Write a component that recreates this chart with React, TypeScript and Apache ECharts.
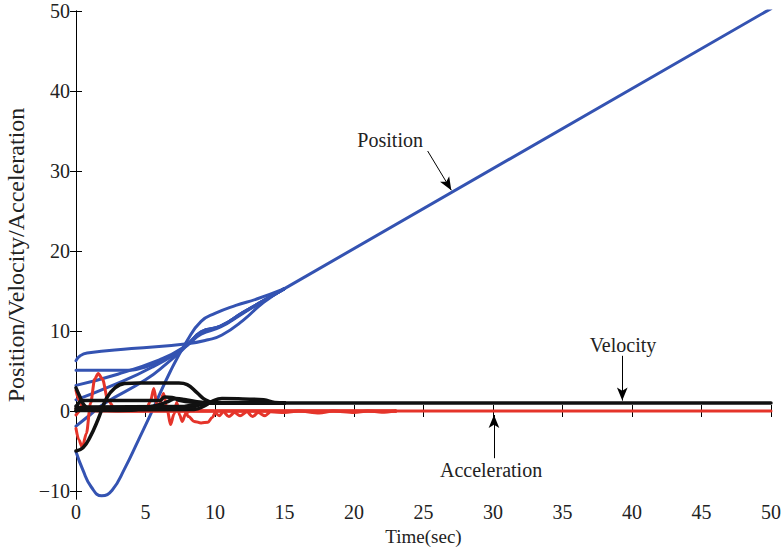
import React, { useEffect, useRef } from "react";
import * as echarts from "echarts";

// Axis ranges and tick values
const xRange = [0, 50];
const yRange = [-11, 50];
const xTicks = [0, 5, 10, 15, 20, 25, 30, 35, 40, 45, 50];
const yTicks = [-10, 0, 10, 20, 30, 40, 50];

// Position of each agent during the transient: [time, value]
const pos1 = [[0, 6.3], [0.3, 6.9], [0.8, 7.25], [4, 7.8], [8, 8.4], [9.5, 8.9], [10.5, 9.5], [12, 11.3], [13.5, 13.6], [15, 15.3]];
const pos2 = [[0, 5.1], [3.5, 5.1], [5, 5.5], [6.5, 6.6], [8, 8.25], [9, 9.6], [10.4, 10.5], [12, 12.2], [13.5, 13.8], [15, 15.3]];
const pos3 = [[0, 3.2], [3, 4.6], [6, 6.4], [7.6, 7.8], [9, 9.8], [10.4, 10.6], [12, 12.3], [13.5, 13.8], [15, 15.3]];
const pos4 = [[0, 1.4], [2.5, 3.1], [5.5, 5.5], [8, 8.2], [9, 9.9], [10.4, 10.6], [12, 12.3], [13.5, 13.8], [15, 15.3]];
const pos5 = [[0, -1.9], [1, -0.5], [2.1, 1.0], [5, 3.9], [6.5, 5.9], [8, 8.2], [9, 9.9], [10.4, 10.6], [12, 12.3], [13.5, 13.8], [15, 15.3]];
const pos6 = [[0, -5.1], [0.5, -7.4], [1.1, -9.5], [1.85, -10.6], [2.6, -9.9], [3.5, -7.2], [4.5, -3.6], [5.4, -0.3], [6.8, 5], [8, 8.8], [9, 11.2], [10, 12.2], [11.5, 13.2], [13, 14], [15, 15.3]];
// Common steady-state trajectory
const posTail = [[15, 15.3], [50, 50.3]];

// Velocity of each agent during the transient
const vel1 = [[0, 2.9], [0.25, 1.9], [0.55, 0.8], [0.9, 0.3], [1.5, 0.15], [8.5, 0.2], [9.2, 0.6], [9.9, 1.3], [10.5, 1.55], [12, 1.5], [13.5, 1.4], [14.3, 1.05], [15, 1.0]];
const vel2 = [[0, 0.05], [4, 0.1], [5, 0.45], [6, 0.8], [6.5, 1.1], [7.2, 1.55], [7.8, 1.45], [8.6, 1.2], [9.4, 1.05], [15, 1]];
const vel3 = [[0, 0.3], [0.3, 1.2], [0.6, 1.3], [6, 1.3], [6.4, 1.75], [6.9, 1.7], [7.5, 1.3], [8.5, 1.1], [10, 1.0], [15, 1]];
const vel4 = [[0, 0.6], [0.5, 0.35], [8, 0.35], [9, 0.8], [10, 1.0], [15, 1]];
const vel5 = [[0, 0], [0.6, 0.5], [7.5, 0.55], [8.5, 0.8], [9.5, 1.0], [15, 1]];
const vel6 = [[0, -5], [0.5, -4.6], [1.0, -3.3], [1.6, -1.0], [2.2, 1.6], [2.8, 2.9], [3.5, 3.45], [4.5, 3.5], [7.4, 3.5], [8.0, 3.3], [8.7, 2.3], [9.3, 1.4], [9.9, 1.05], [10.8, 1.0], [15, 1]];
const velTail = [[15, 1], [50, 1]];

// Acceleration of each agent during the transient
const acc1 = [[0, -2.2], [0.2, -3.6], [0.45, -4.5], [0.75, -2.8], [1.05, 1.0], [1.35, 4.0], [1.6, 4.7], [1.9, 4.0], [2.3, 1.3], [2.8, 0.3], [3.5, 0.05], [7.8, 0], [8.1, -0.7], [8.5, -1.3], [9.0, -1.5], [9.5, -1.4], [9.8, -0.8], [10.1, 0], [10.6, 0], [23, 0]];
const acc2 = [[0, 2.6], [0.2, 1.4], [0.5, 0.4], [0.9, 0.05], [5.0, 0], [5.35, 1.2], [5.6, 2.8], [5.85, 0.5], [6.05, 1.0], [6.3, 2.2], [6.55, 0.3], [6.8, -1.7], [7.05, -0.4], [7.25, 1.1], [7.45, -0.5], [7.65, -1.3], [7.9, -0.3], [8.2, 0], [23, 0]];
const acc3 = [[0, 0.3], [0.6, 0.1], [1.5, 0], [9.9, 0], [10.3, -0.6], [10.6, -0.1], [11, -0.7], [11.4, -0.2], [11.8, -0.6], [12.3, -0.1], [12.7, -0.7], [13.1, -0.2], [13.6, -0.6], [14, -0.1], [15, -0.2], [16, 0], [17.5, -0.25], [18.5, 0], [20, -0.2], [21, 0], [22, -0.15], [23, 0]];
const acc4 = [[0, -0.5], [0.5, 0.3], [1.5, 0.1], [3, 0], [23, 0]];
const accTail = [[23, 0], [50, 0]];

const positions = [pos1, pos2, pos3, pos4, pos5, pos6];
const velocities = [vel1, vel2, vel3, vel4, vel5, vel6];
const accelerations = [acc1, acc2, acc3, acc4];

// Annotations: label text, label anchor, arrow tail and arrow head (data coords)
const noteText = ["Position", "Velocity", "Acceleration"];
const noteAt = [[22.6, 33.9], [39.35, 8.25], [29.86, -7.4]];
const arrowFrom = [[25.3, 32.5], [39.3, 6.9], [30.07, -5.9]];
const arrowTo = [[27.0, 27.6], [39.3, 1.3], [30.07, -0.5]];

const BLUE = "#3453B2";
const RED = "#E5342A";
const BLACK = "#111111";
const FONT = '"Liberation Serif", "Times New Roman", serif';

const fmtTick = (v: number) => String(v).replace("-", "\u2212");

function lineSeries(data: number[][], color: string, width: number, smooth: number | boolean, monotone = true) {
  return {
    type: "line",
    data,
    showSymbol: false,
    symbol: "none",
    smooth,
    smoothMonotone: monotone ? "x" : undefined,
    clip: true,
    lineStyle: { color, width, cap: "round", join: "round" },
    silent: true,
  };
}

export default function App() {
  const ref = useRef<HTMLDivElement>(null);

  useEffect(() => {
    if (!ref.current) return;
    const chart = echarts.init(ref.current, undefined, { renderer: "svg" });

    const axisCommon = {
      type: "value",
      axisLine: { show: true, lineStyle: { color: "#000", width: 1 } },
      splitLine: { show: false },
    };
    const tick = (values: number[]) => ({
      show: true,
      inside: true,
      length: 6,
      customValues: values,
      lineStyle: { color: "#000", width: 1 },
    });

    const series: any[] = [
      ...positions.map((d) => lineSeries(d, BLUE, 3, 0.5, false)),
      lineSeries(posTail, BLUE, 3, false),
      ...accelerations.map((d) => lineSeries(d, RED, 3, 0.3)),
      lineSeries(accTail, RED, 3, false),
      ...velocities.map((d) => lineSeries(d, BLACK, 3.5, 0.45, false)),
      lineSeries(velTail, BLACK, 3.5, false),
      {
        type: "line",
        data: [],
        silent: true,
        markLine: {
          silent: true,
          animation: false,
          symbol: ["none", "arrow"],
          symbolSize: [8, 13],
          label: { show: false },
          lineStyle: { color: "#000", width: 1, type: "solid" },
          emphasis: { disabled: true },
          data: arrowFrom.map((f, i) => [{ coord: f }, { coord: arrowTo[i] }]),
        },
      },
    ];

    const tickFont = { fontFamily: FONT, fontSize: 20, color: "#222" };

    chart.setOption({
      animation: false,
      backgroundColor: "#ffffff",
      grid: { left: 76, right: 12, top: 11, bottom: 48, containLabel: false, outerBoundsMode: "none" },
      xAxis: [
        {
          ...axisCommon,
          min: xRange[0],
          max: xRange[1],
          position: "bottom",
          name: "Time(sec)",
          nameLocation: "middle",
          nameGap: 28,
          nameTextStyle: { fontFamily: FONT, fontSize: 19, color: "#222" },
          axisTick: tick(xTicks),
          axisLabel: { ...tickFont, margin: 3, customValues: xTicks, formatter: fmtTick },
        },
        {
          ...axisCommon,
          min: xRange[0],
          max: xRange[1],
          position: "top",
          axisTick: tick(xTicks),
          axisLabel: { show: false },
        },
      ],
      yAxis: [
        {
          ...axisCommon,
          min: yRange[0],
          max: yRange[1],
          position: "left",
          name: "Position/Velocity/Acceleration",
          nameLocation: "middle",
          nameGap: 44,
          nameTextStyle: { fontFamily: FONT, fontSize: 24, color: "#222" },
          axisTick: tick(yTicks),
          axisLabel: { ...tickFont, margin: 6, customValues: yTicks, formatter: fmtTick },
        },
        {
          ...axisCommon,
          min: yRange[0],
          max: yRange[1],
          position: "right",
          axisTick: tick(yTicks),
          axisLabel: { show: false },
        },
      ],
      series,
    });

    const graphic = noteText.map((t, i) => {
      const p = chart.convertToPixel({ gridIndex: 0 }, noteAt[i]) as number[];
      return {
        type: "text",
        x: p[0],
        y: p[1],
        silent: true,
        style: {
          text: t,
          fill: "#222",
          font: `20px ${FONT}`,
          align: "center",
          verticalAlign: "middle",
        },
      };
    });
    chart.setOption({ graphic });

    return () => chart.dispose();
  }, []);

  return (
    <div
      ref={ref}
      style={{ position: "fixed", left: 0, top: 0, width: 783, height: 547, background: "#fff" }}
    />
  );
}
